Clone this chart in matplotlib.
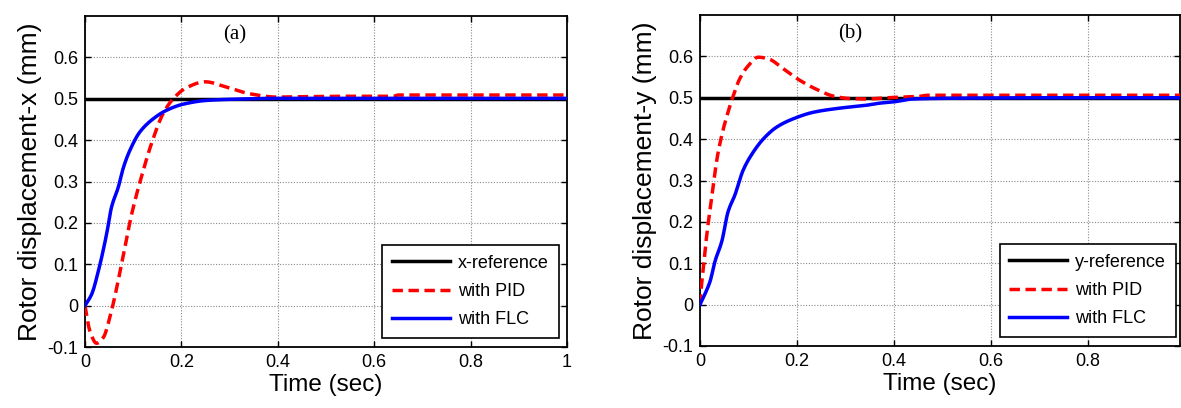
import matplotlib
matplotlib.use("Agg")
import matplotlib.pyplot as plt
import numpy as np

# ---- data ----
ref_level = 0.5

# panel (a): x-direction
t_pid_x = [0.0, 0.010, 0.024, 0.038, 0.055, 0.076, 0.097, 0.117, 0.138, 0.162,
           0.183, 0.211, 0.249, 0.294, 0.342, 0.398, 0.45, 0.55, 0.64, 0.65, 0.8, 1.0]
v_pid_x = [0.0, -0.061, -0.091, -0.077, -0.012, 0.101, 0.222, 0.311, 0.392, 0.464,
           0.500, 0.527, 0.541, 0.528, 0.512, 0.504, 0.505, 0.506, 0.506, 0.509, 0.509, 0.509]
t_flc_x = [0.0, 0.014, 0.028, 0.045, 0.055, 0.069, 0.080, 0.093, 0.114, 0.142,
           0.169, 0.204, 0.252, 0.31, 0.4, 1.0]
v_flc_x = [0.0, 0.028, 0.085, 0.174, 0.238, 0.286, 0.335, 0.375, 0.420, 0.452,
           0.472, 0.487, 0.496, 0.499, 0.501, 0.501]

# panel (b): y-direction
t_pid_y = [0.0, 0.002, 0.007, 0.014, 0.024, 0.034, 0.045, 0.058, 0.069, 0.082, 0.100,
           0.120, 0.141, 0.172, 0.206, 0.241, 0.275, 0.309, 0.344, 0.385, 0.45, 0.47, 0.7, 1.0]
v_pid_y = [0.0, 0.033, 0.089, 0.169, 0.257, 0.345, 0.410, 0.466, 0.506, 0.546, 0.578,
           0.598, 0.594, 0.570, 0.542, 0.520, 0.504, 0.498, 0.497, 0.500, 0.503, 0.506, 0.506, 0.506]
t_flc_y = [0.0, 0.010, 0.021, 0.031, 0.045, 0.058, 0.072, 0.089, 0.110, 0.131,
           0.158, 0.192, 0.234, 0.289, 0.344, 0.371, 0.399, 0.44, 0.53, 0.73, 1.0]
v_flc_y = [0.0, 0.025, 0.057, 0.105, 0.153, 0.225, 0.265, 0.325, 0.369, 0.401,
           0.429, 0.449, 0.465, 0.475, 0.482, 0.487, 0.490, 0.497, 0.499, 0.500, 0.500]

x_ticks_a = [0, 0.2, 0.4, 0.6, 0.8, 1]
x_ticks_b = [0, 0.2, 0.4, 0.6, 0.8]
y_ticks = [-0.1, 0, 0.1, 0.2, 0.3, 0.4, 0.5, 0.6]

panels = [
    dict(tp=t_pid_x, vp=v_pid_x, tf=t_flc_x, vf=v_flc_x, xt=x_ticks_a, xmax=1.0,
         ylabel="Rotor displacement-x (mm)", tag="(a)", ref="x-reference",
         rect=[85/1181, 1-347/408, (567-85)/1181, (347-16)/408], tagx=0.31,
         leg_anchor=(0.983, 0.027)),
    dict(tp=t_pid_y, vp=v_pid_y, tf=t_flc_y, vf=v_flc_y, xt=x_ticks_b, xmax=0.99,
         ylabel="Rotor displacement-y (mm)", tag="(b)", ref="y-reference",
         rect=[700/1181, 1-346/408, (1180-700)/1181, (346-15)/408], tagx=0.31,
         leg_anchor=(0.992, 0.027)),
]

def smooth(t, v):
    tt = np.linspace(0, max(t), 600)
    t = np.asarray(t); v = np.asarray(v)
    h = np.diff(t); d = np.diff(v) / h
    m = np.zeros_like(v)
    for i in range(1, len(v) - 1):
        if d[i-1] * d[i] > 0:
            w1 = 2*h[i] + h[i-1]; w2 = h[i] + 2*h[i-1]
            m[i] = (w1 + w2) / (w1/d[i-1] + w2/d[i])
    m[0] = d[0]; m[-1] = d[-1]
    idx = np.clip(np.searchsorted(t, tt) - 1, 0, len(t) - 2)
    s = (tt - t[idx]) / h[idx]
    h00 = 2*s**3 - 3*s**2 + 1; h10 = s**3 - 2*s**2 + s
    h01 = -2*s**3 + 3*s**2; h11 = s**3 - s**2
    vv = h00*v[idx] + h10*h[idx]*m[idx] + h01*v[idx+1] + h11*h[idx]*m[idx+1]
    return tt, vv

fig = plt.figure(figsize=(11.81, 4.08), dpi=100)
sans = ["Liberation Sans", "DejaVu Sans"]

for p in panels:
    ax = fig.add_axes(p["rect"])
    ax.plot([0, 1], [ref_level, ref_level], color="black", lw=2.5, label=p["ref"], zorder=3)
    tt, vv = smooth(p["tp"], p["vp"])
    ax.plot(tt, vv, color="red", lw=2.5, ls=(0, (3, 1.6)), label="with PID", zorder=4)
    tt, vv = smooth(p["tf"], p["vf"])
    ax.plot(tt, vv, color="blue", lw=2.5, label="with FLC", zorder=5)

    ax.set_xlim(0, p["xmax"])
    ax.set_ylim(-0.1, 0.7)
    ax.set_xticks(p["xt"])
    ax.set_xticklabels([("%g" % v) for v in p["xt"]], fontfamily=sans, fontsize=13)
    ax.set_yticks(y_ticks)
    ax.set_yticklabels([("%g" % v) for v in y_ticks], fontfamily=sans, fontsize=13)
    ax.tick_params(direction="in", top=True, right=True, length=4, width=1, pad=5)
    ax.grid(True, color="#8a8a8a", ls=(0, (1, 1.5)), lw=0.8)
    for s in ax.spines.values():
        s.set_linewidth(1.3)
    ax.set_xlabel("Time (sec)", fontfamily=sans, fontsize=17.5, labelpad=2)
    ax.set_ylabel(p["ylabel"], fontfamily=sans, fontsize=19, labelpad=4)
    ax.text(p["tagx"], 0.655, p["tag"], fontfamily=["Liberation Serif", "DejaVu Serif"],
            fontsize=15, ha="center", va="center", transform=ax.transData)
    leg = ax.legend(loc="lower right", bbox_to_anchor=p["leg_anchor"], borderaxespad=0,
                    prop=dict(family=sans, size=13), fancybox=False,
                    framealpha=1, edgecolor="black", handlelength=3.2,
                    borderpad=0.55, labelspacing=0.62, handletextpad=0.45)
    leg.get_frame().set_linewidth(1.2)

fig.savefig("out.png", dpi=100)
